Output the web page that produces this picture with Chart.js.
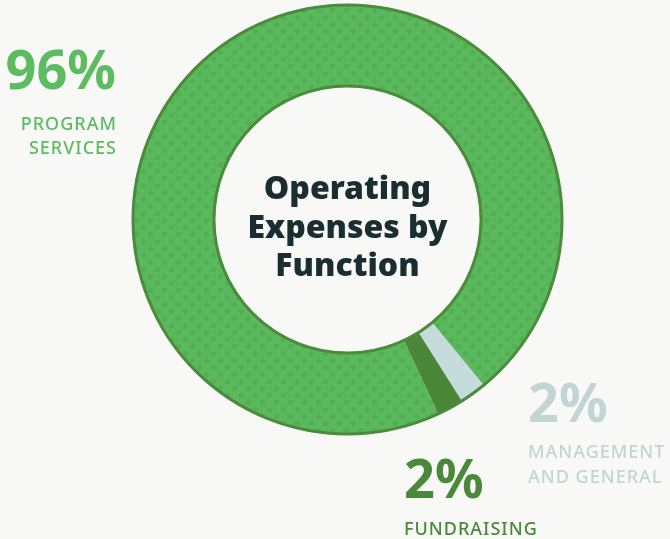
<!DOCTYPE html>
<html>
<head>
<meta charset="utf-8">
<script src="https://cdn.jsdelivr.net/npm/chart.js@4.4.1/dist/chart.umd.min.js"></script>
<style>
  html, body { margin: 0; padding: 0; background: #f8f9f6; }
  #wrap { position: relative; width: 670px; height: 539px; }
</style>
</head>
<body>
<div id="wrap"><canvas id="expenseChart" width="670" height="539"></canvas></div>
<script>
// Operating expenses by function (percent of total)
const categories = ['PROGRAM SERVICES', 'MANAGEMENT AND GENERAL', 'FUNDRAISING'];
const shares = [96, 2, 2];
const labelLines = [['PROGRAM', 'SERVICES'], ['MANAGEMENT', 'AND GENERAL'], ['FUNDRAISING']];
const sliceColors = ['#5ab95c', '#c6dcdc', '#4a8738'];
const labelColors = ['#5dbb61', '#c2d5d5', '#4b893a'];
const titleLines = ['Operating', 'Expenses by', 'Function'];

const FONT = '"Noto Sans", "Open Sans", sans-serif';

// subtle halftone dots on the big slice
function dotPattern(base, dot) {
  const c = document.createElement('canvas');
  c.width = 14; c.height = 14;
  const g = c.getContext('2d');
  g.fillStyle = base;
  g.fillRect(0, 0, 14, 14);
  g.fillStyle = dot;
  g.beginPath(); g.arc(3.5, 3.5, 2.6, 0, Math.PI * 2); g.fill();
  g.beginPath(); g.arc(10.5, 10.5, 2.6, 0, Math.PI * 2); g.fill();
  return g.createPattern(c, 'repeat');
}

// outline rings + centre title + side labels
const decorPlugin = {
  id: 'decor',
  afterDatasetsDraw(chart) {
    const ctx = chart.ctx;
    const arc = chart.getDatasetMeta(0).data[0];
    const { x, y, innerRadius, outerRadius } = arc.getProps(['x', 'y', 'innerRadius', 'outerRadius'], true);
    ctx.save();
    ctx.strokeStyle = '#4b8b3b';
    ctx.lineWidth = 3;
    ctx.beginPath(); ctx.arc(x, y, outerRadius - 1, 0, Math.PI * 2); ctx.stroke();
    ctx.beginPath(); ctx.arc(x, y, innerRadius + 1, 0, Math.PI * 2); ctx.stroke();

    ctx.fillStyle = '#1a2e31';
    ctx.font = '900 32px ' + FONT;
    ctx.textAlign = 'center';
    ctx.textBaseline = 'alphabetic';
    titleLines.forEach((t, i) => ctx.fillText(t, x, 199 + i * 38.5));

    // side labels
    const spots = [
      { align: 'right', x: 116, num: 89, lines: [130, 154] },
      { align: 'left', x: 528, num: 422, lines: [458, 483] },
      { align: 'left', x: 404, num: 498, lines: [535] }
    ];
    spots.forEach((s, i) => {
      ctx.fillStyle = labelColors[i];
      ctx.textAlign = s.align;
      ctx.letterSpacing = '0px';
      ctx.font = 'bold 54px ' + FONT;
      ctx.fillText(shares[i] + '%', s.x, s.num);
      ctx.font = '500 18px ' + FONT;
      ctx.letterSpacing = '1px';
      labelLines[i].forEach((w, j) => ctx.fillText(w, s.x + (s.align === 'right' ? 1 : 0), s.lines[j]));
    });
    ctx.restore();
  }
};

const ctx = document.getElementById('expenseChart').getContext('2d');
new Chart(ctx, {
  type: 'doughnut',
  data: {
    labels: categories,
    datasets: [{
      data: shares,
      backgroundColor: [dotPattern(sliceColors[0], '#54ae56'), sliceColors[1], sliceColors[2]],
      borderWidth: 0,
      hoverOffset: 0
    }]
  },
  options: {
    responsive: false,
    animation: false,
    rotation: 155,
    cutout: '61.5%',
    layout: { padding: { top: 4, bottom: 104, left: 25, right: 0 } },
    plugins: { legend: { display: false }, tooltip: { enabled: false } }
  },
  plugins: [decorPlugin]
});
</script>
</body>
</html>
